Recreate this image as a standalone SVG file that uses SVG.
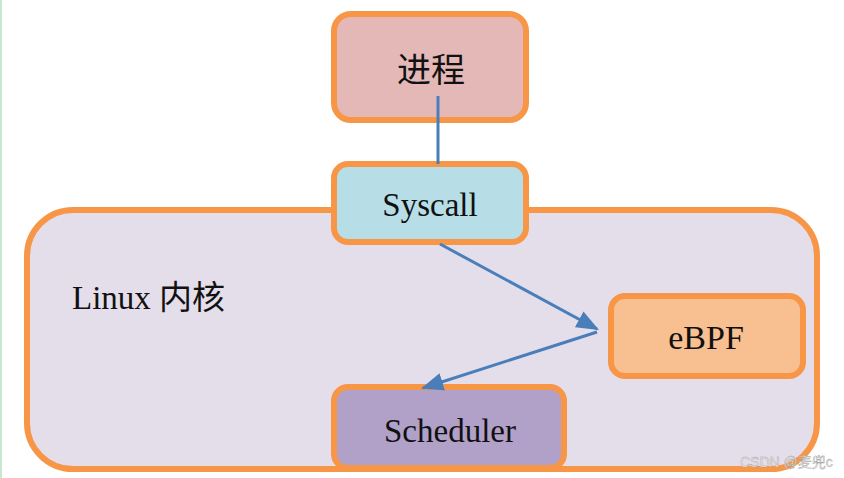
<svg xmlns="http://www.w3.org/2000/svg" width="844" height="478" viewBox="0 0 844 478">
<defs>
<marker id="ah" viewBox="0 0 10 10" refX="9" refY="5" markerWidth="7.5" markerHeight="6" markerUnits="strokeWidth" orient="auto" preserveAspectRatio="none">
<path d="M0,0 L10,5 L0,10 z" fill="#4A7EBB"/>
</marker>
</defs>
<style>
.box{stroke:#F79646;stroke-width:6}
.t{font-family:"Liberation Serif","Noto Sans CJK SC",serif;fill:#111;text-anchor:middle}
.c{stroke:#4A7EBB;stroke-width:3;fill:none}
</style>
<rect width="844" height="478" fill="#fff"/>
<line x1="1" y1="0" x2="1" y2="478" stroke="#C6E8CF" stroke-width="2"/>
<g id="kernel">
<rect class="box" x="27" y="210" width="790" height="259" rx="46" fill="#E4DEEA"/>
<text class="t" x="72" y="309" font-size="33" style="text-anchor:start">Linux 内核</text>
</g>
<g id="process">
<rect class="box" x="334" y="14" width="192" height="106" rx="17" fill="#E5B8B8"/>
<text class="t" x="431" y="82" font-size="34">进程</text>
</g>
<g id="syscall">
<rect class="box" x="334" y="164" width="192" height="78" rx="14" fill="#B7DDE6"/>
<text class="t" x="430" y="216" font-size="33">Syscall</text>
</g>
<g id="ebpf">
<rect class="box" x="611" y="296" width="192" height="80" rx="14" fill="#F8BF91"/>
<text class="t" x="706" y="349" font-size="34">eBPF</text>
</g>
<g id="scheduler">
<rect class="box" x="334" y="387" width="230" height="81" rx="14" fill="#B1A0C7"/>
<text class="t" x="450" y="442" font-size="33">Scheduler</text>
</g>
<g id="connectors">
<line class="c" x1="440" y1="244" x2="597" y2="329" marker-end="url(#ah)"/>
<line class="c" x1="597" y1="332" x2="423" y2="388" marker-end="url(#ah)"/>
<line class="c" x1="438" y1="96" x2="438" y2="164"/>
</g>
<text x="740" y="467" font-family="'Liberation Sans','Noto Sans CJK SC',sans-serif" font-size="14" fill="#F0F0F0" stroke="#9A9A9A" stroke-width="0.4">CSDN @麦兜c</text>
</svg>
